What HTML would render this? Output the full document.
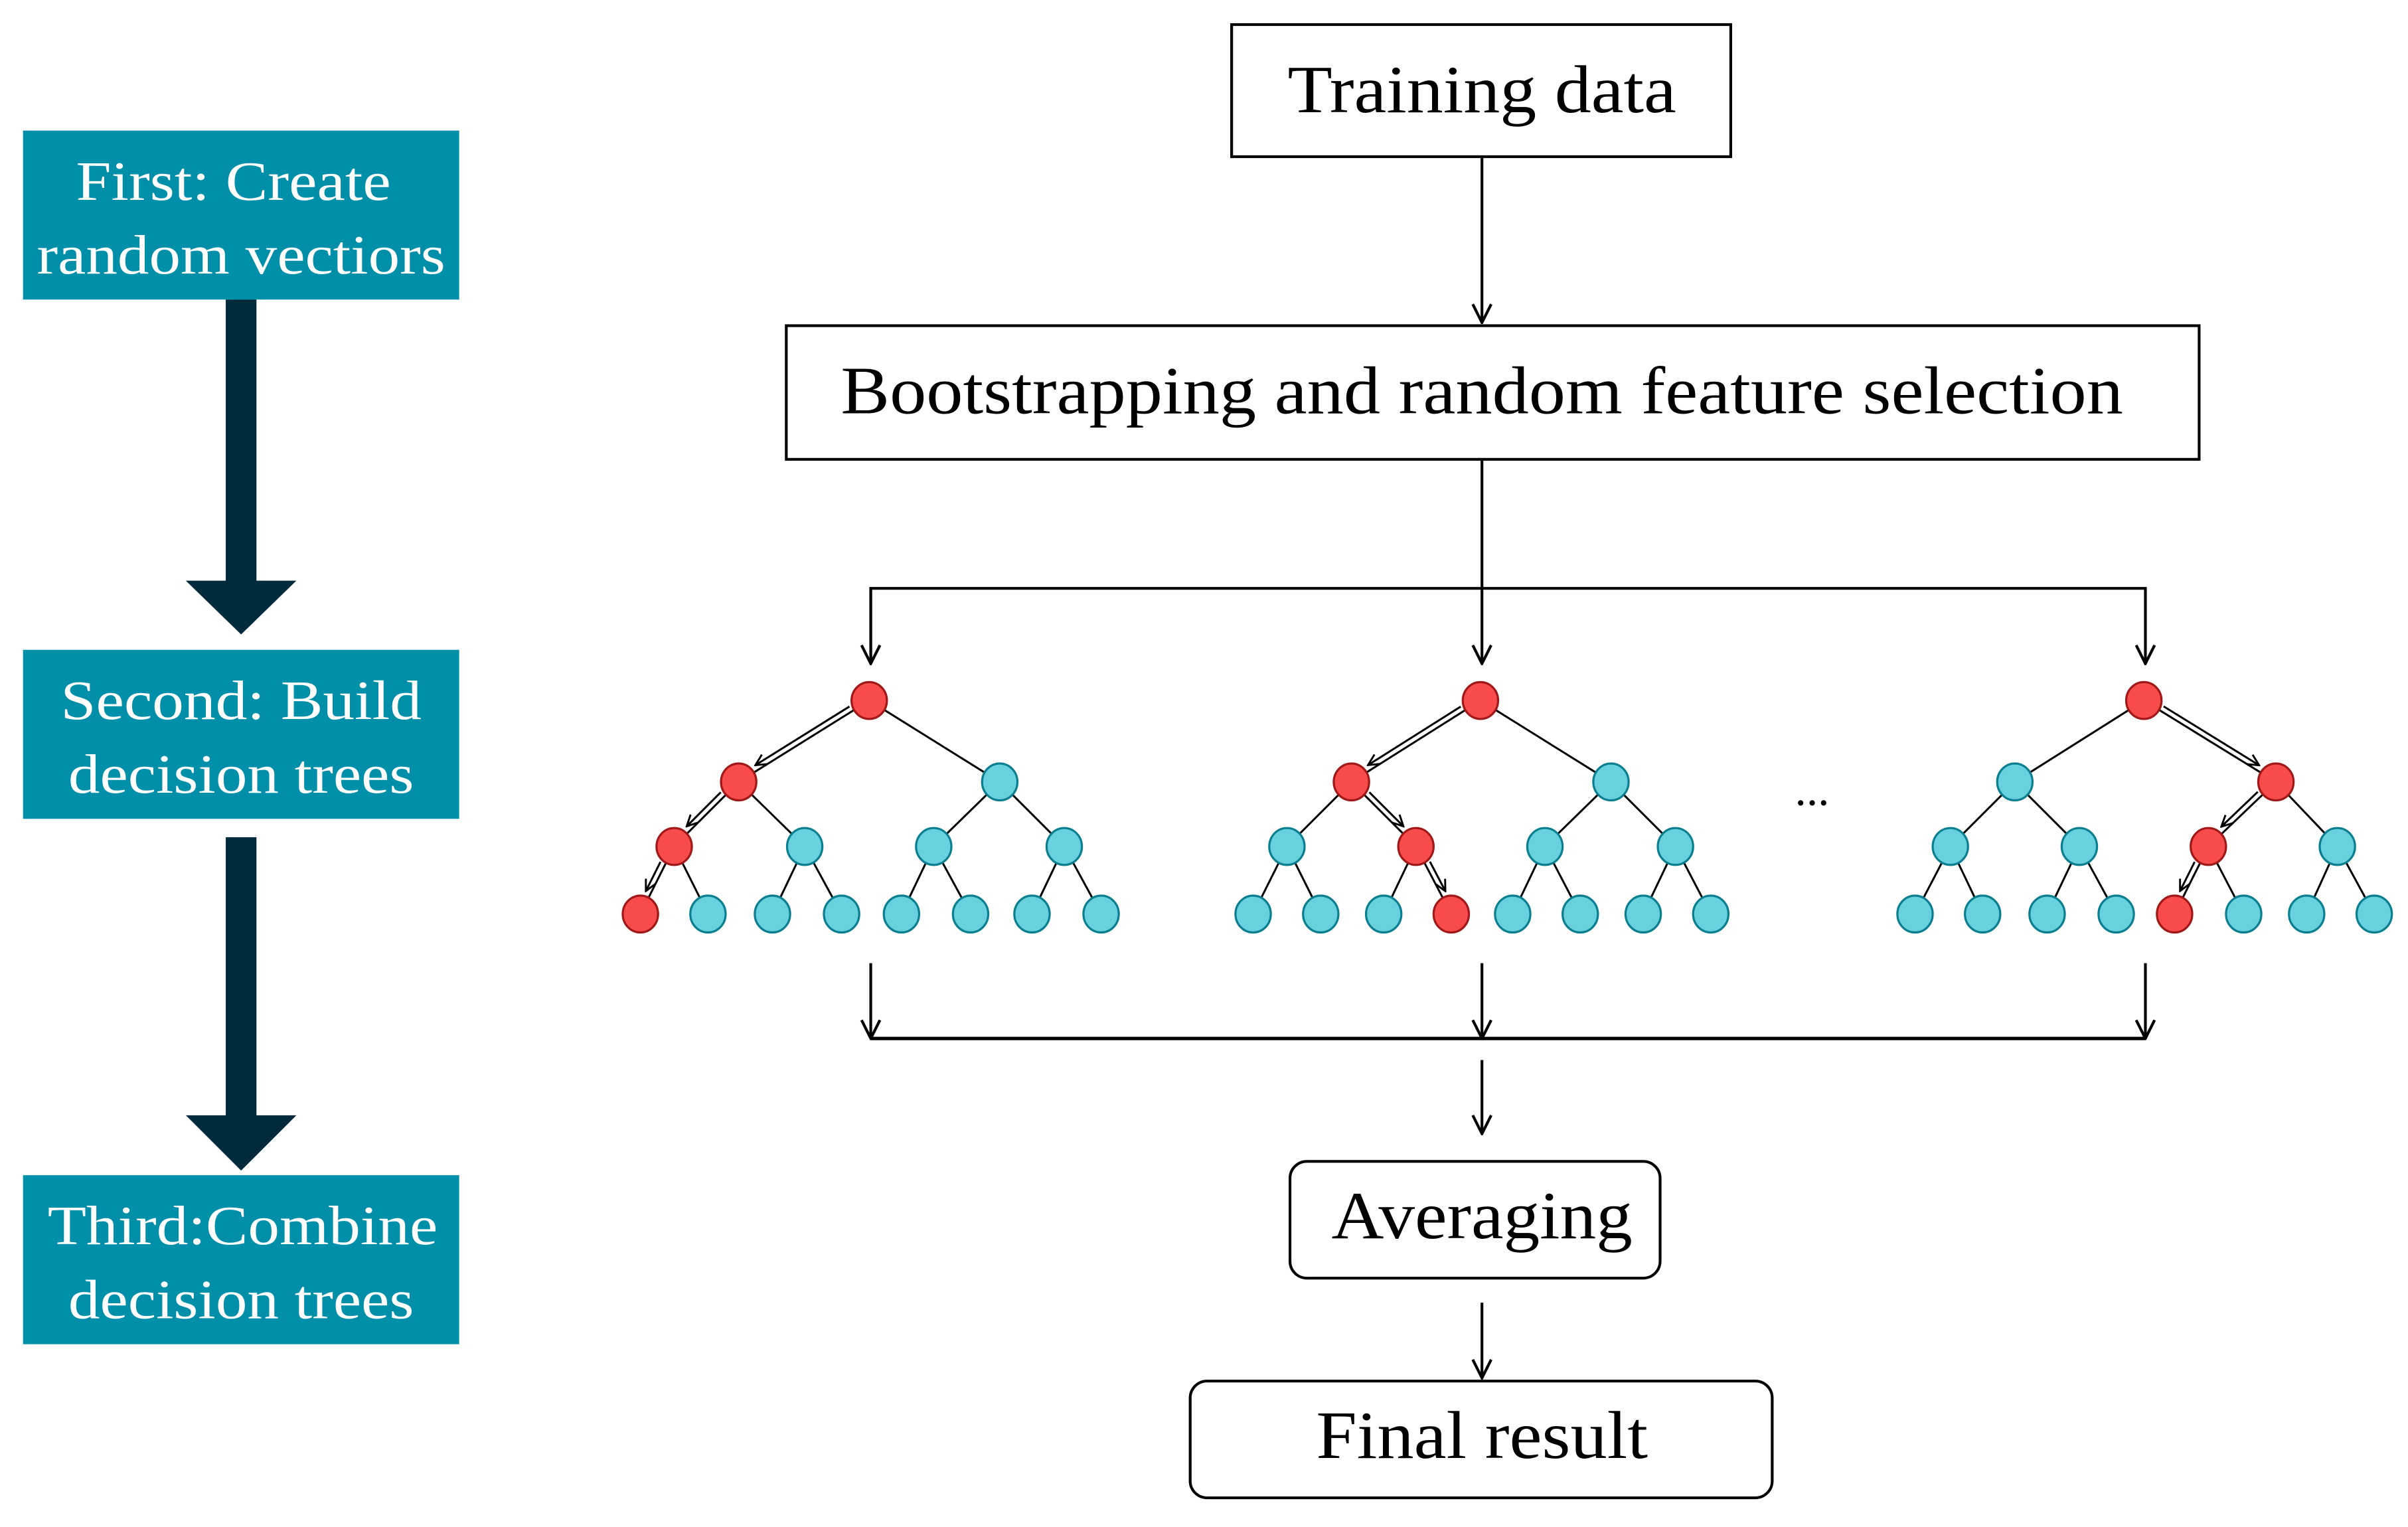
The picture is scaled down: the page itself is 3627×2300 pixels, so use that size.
<!DOCTYPE html>
<html><head><meta charset="utf-8"><style>
html,body{margin:0;padding:0;background:#fff;}
svg{display:block;}
</style></head><body>
<svg id="s" width="3627" height="2300" viewBox="0 0 1568 994" preserveAspectRatio="none" xmlns="http://www.w3.org/2000/svg">
<defs>
<marker id="ah" viewBox="0 0 14 14" refX="13" refY="7" markerWidth="14" markerHeight="14" markerUnits="userSpaceOnUse" orient="auto">
<path d="M1,1 L13,7 L1,13" fill="none" stroke="#000" stroke-width="1.8"/>
</marker>
<marker id="sh" viewBox="0 0 10 10" refX="9" refY="5" markerWidth="9" markerHeight="9" markerUnits="userSpaceOnUse" orient="auto">
<path d="M1,1 L9,5 L1,9" fill="none" stroke="#000" stroke-width="1.4"/>
</marker>
</defs>
<g fill="#008fa9">
<rect x="15" y="85" width="284" height="110"/>
<rect x="15" y="423" width="284" height="110"/>
<rect x="15" y="765" width="284" height="110"/>
</g>
<g fill="#002b3d">
<rect x="147" y="195" width="20" height="184"/>
<polygon points="121,378 193,378 157,413"/>
<rect x="147" y="545" width="20" height="182"/>
<polygon points="121,726 193,726 157,762"/>
</g>
<g style="font-family:'Liberation Serif',serif" font-size="36" fill="#fff" text-anchor="middle">
<text x="152" y="130" textLength="205" lengthAdjust="spacingAndGlyphs">First: Create</text>
<text x="157" y="178" textLength="266" lengthAdjust="spacingAndGlyphs">random vectiors</text>
<text x="157" y="468" textLength="235" lengthAdjust="spacingAndGlyphs">Second: Build</text>
<text x="157" y="516" textLength="225" lengthAdjust="spacingAndGlyphs">decision trees</text>
<text x="158" y="810" textLength="254" lengthAdjust="spacingAndGlyphs">Third:Combine</text>
<text x="157" y="858" textLength="225" lengthAdjust="spacingAndGlyphs">decision trees</text>
</g>
<g fill="#fff" stroke="#000" stroke-width="1.8">
<rect x="802" y="16" width="325" height="86"/>
<rect x="512" y="212" width="920" height="87"/>
<rect x="840" y="756" width="241" height="76" rx="11"/>
<rect x="775" y="899" width="379" height="76" rx="11"/>
</g>
<g style="font-family:'Liberation Serif',serif" font-size="44" fill="#000" text-anchor="middle">
<text x="965" y="73" textLength="253" lengthAdjust="spacingAndGlyphs">Training data</text>
<text x="965" y="269" textLength="835" lengthAdjust="spacingAndGlyphs">Bootstrapping and random feature selection</text>
<text x="965" y="806" textLength="196" lengthAdjust="spacingAndGlyphs">Averaging</text>
<text x="965" y="949" textLength="216" lengthAdjust="spacingAndGlyphs">Final result</text>
<text x="1180" y="524" font-size="30">...</text>
</g>
<g stroke="#000" stroke-width="1.8" fill="none">
<line x1="965" y1="102" x2="965" y2="210" marker-end="url(#ah)"/>
<line x1="965" y1="299" x2="965" y2="432" marker-end="url(#ah)"/>
<polyline points="567,432 567,383 1397,383 1397,432" marker-end="url(#ah)"/>
<line x1="567" y1="383" x2="567" y2="432" marker-end="url(#ah)"/>
<line x1="567" y1="627" x2="567" y2="676" marker-end="url(#ah)"/>
<line x1="965" y1="627" x2="965" y2="676" marker-end="url(#ah)"/>
<line x1="1397" y1="627" x2="1397" y2="676" marker-end="url(#ah)"/>
<line x1="567" y1="676" x2="1397" y2="676" stroke-width="2.2"/>
<line x1="965" y1="690" x2="965" y2="738" marker-end="url(#ah)"/>
<line x1="965" y1="848" x2="965" y2="897" marker-end="url(#ah)"/>
</g>
<g id="trees"></g>
</svg>
<script>
(function(){
var g=document.getElementById('trees'),NS='http://www.w3.org/2000/svg';
function el(n,a){var e=document.createElementNS(NS,n);for(var k in a)e.setAttribute(k,a[k]);g.appendChild(e);return e;}
var trees=[
 {root:[566,456],l2:[481,651],l3:[439,524,608,693],lv:[417,461,503,548,587,632,672,717],path:[0,0,0]},
 {root:[964,456],l2:[880,1049],l3:[838,922,1006,1091],lv:[816,860,901,945,985,1029,1070,1114],path:[0,1,1]},
 {root:[1396,456],l2:[1312,1482],l3:[1270,1354,1438,1522],lv:[1247,1291,1333,1378,1416,1461,1502,1546],path:[1,0,0]}
];
var Y=[456,509,551,595],R=12;
trees.forEach(function(t){
 var lv=[[t.root[0]],t.l2,t.l3,t.lv];
 var red=[0],i=0;
 t.path.forEach(function(p){i=i*2+p;red.push(i);});
 for(var d=0;d<3;d++){
  for(var j=0;j<lv[d].length;j++){
   for(var c=0;c<2;c++){
    var k=j*2+c,px=lv[d][j],py=Y[d],cx=lv[d+1][k],cy=Y[d+1];
    var dx=cx-px,dy=cy-py,L=Math.hypot(dx,dy);dx/=L;dy/=L;
    el('line',{x1:px+dx*R,y1:py+dy*R,x2:cx-dx*R,y2:cy-dy*R,stroke:'#000','stroke-width':1.3});
    if(red[d]==j&&red[d+1]==k){
     var nx=-dy,ny=dx; if(ny>0){nx=-nx;ny=-ny;}
     var o=3.5;
     el('line',{x1:px+dx*(R+1)+nx*o,y1:py+dy*(R+1)+ny*o,x2:cx-dx*(R+3)+nx*o,y2:cy-dy*(R+3)+ny*o,stroke:'#000','stroke-width':1.3,'marker-end':'url(#sh)'});
    }
   }
  }
 }
 for(var d=0;d<4;d++)for(var j=0;j<lv[d].length;j++){
  var r=red[d]==j;
  el('ellipse',{cx:lv[d][j],cy:Y[d],rx:11.5,ry:12,fill:r?'#f84c4c':'#69d0dd',stroke:r?'#a01818':'#0a7f90','stroke-width':1.4});
 }
});
})();
</script>
</body></html>
